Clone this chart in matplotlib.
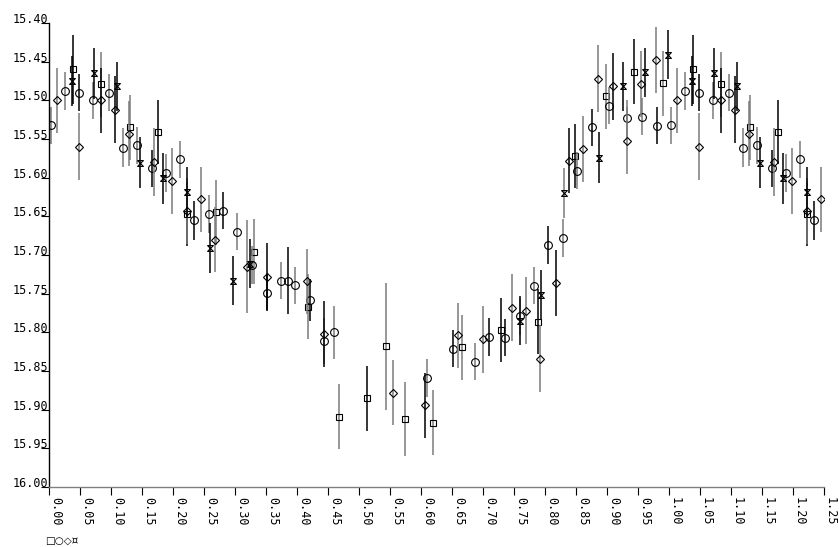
'''
Phase-folded light curve, four data sets with error bars.
'''

import numpy as np
import matplotlib
matplotlib.use("Agg")
import matplotlib.pyplot as plt
from matplotlib.path import Path

# squares
sq_phase = [0.038, 0.084, 0.130, 0.176, 0.223, 0.269, 0.331, 0.417, 0.467, 0.513,
            0.543, 0.574, 0.619, 0.666, 0.729, 0.788, 0.848, 0.898, 0.944, 0.991]
sq_mag = [15.460, 15.479, 15.535, 15.541, 15.647, 15.645, 15.696, 15.767, 15.909, 15.885,
          15.818, 15.912, 15.917, 15.819, 15.797, 15.786, 15.572, 15.495, 15.463, 15.478]
sq_err = [0.045, 0.042, 0.042, 0.041, 0.042, 0.042, 0.042, 0.042, 0.042, 0.042,
          0.082, 0.048, 0.042, 0.042, 0.042, 0.042, 0.042, 0.042, 0.042, 0.042]

# circles
ci_phase = [0.003, 0.026, 0.049, 0.071, 0.096, 0.119, 0.142, 0.166, 0.189, 0.212,
            0.234, 0.258, 0.281, 0.304, 0.327, 0.351, 0.374, 0.386, 0.397, 0.421,
            0.444, 0.460, 0.609, 0.651, 0.687, 0.710, 0.736, 0.759, 0.782, 0.805,
            0.829, 0.852, 0.875, 0.904, 0.933, 0.956, 0.980]
ci_mag = [15.532, 15.488, 15.490, 15.500, 15.490, 15.561, 15.558, 15.588, 15.594, 15.576,
          15.655, 15.647, 15.643, 15.670, 15.713, 15.749, 15.733, 15.733, 15.739, 15.758,
          15.811, 15.800, 15.859, 15.821, 15.838, 15.806, 15.807, 15.779, 15.740, 15.687,
          15.678, 15.591, 15.535, 15.507, 15.523, 15.521, 15.533]
ci_err = [0.024, 0.024, 0.024, 0.024, 0.024, 0.025, 0.024, 0.024, 0.024, 0.024,
          0.025, 0.024, 0.024, 0.024, 0.024, 0.024, 0.024, 0.043, 0.024, 0.027,
          0.030, 0.034, 0.024, 0.024, 0.024, 0.024, 0.024, 0.024, 0.024, 0.024,
          0.024, 0.024, 0.024, 0.024, 0.024, 0.024, 0.024]

# diamonds
di_phase = [0.013, 0.048, 0.084, 0.106, 0.129, 0.170, 0.198, 0.222, 0.245, 0.268,
            0.320, 0.351, 0.416, 0.444, 0.555, 0.606, 0.659, 0.700, 0.746, 0.769,
            0.792, 0.817, 0.839, 0.862, 0.885, 0.909, 0.932, 0.955, 0.979]
di_mag = [15.500, 15.560, 15.500, 15.512, 15.543, 15.580, 15.604, 15.643, 15.628, 15.680,
          15.715, 15.728, 15.734, 15.802, 15.878, 15.894, 15.804, 15.809, 15.768, 15.772,
          15.834, 15.736, 15.578, 15.563, 15.472, 15.482, 15.552, 15.479, 15.448]
di_err = [0.042, 0.043, 0.042, 0.043, 0.042, 0.044, 0.043, 0.043, 0.042, 0.042,
          0.060, 0.043, 0.042, 0.043, 0.042, 0.042, 0.042, 0.043, 0.043, 0.043,
          0.043, 0.043, 0.042, 0.043, 0.043, 0.043, 0.043, 0.043, 0.043]

# hourglass marks
hg_phase = [0.037, 0.073, 0.110, 0.147, 0.184, 0.222, 0.259, 0.296, 0.324, 0.759,
            0.794, 0.831, 0.887, 0.925, 0.962, 0.998]
hg_mag = [15.475, 15.465, 15.482, 15.581, 15.601, 15.619, 15.691, 15.733, 15.711, 15.785,
          15.752, 15.620, 15.574, 15.482, 15.464, 15.441]
hg_err = [0.032, 0.033, 0.032, 0.033, 0.033, 0.033, 0.032, 0.032, 0.032, 0.032,
          0.032, 0.032, 0.033, 0.032, 0.032, 0.032]

# which error bars are drawn dark (the rest are grey)
sq_dark = [1, 0, 0, 1, 1, 0, 0, 0, 0, 1, 0, 0, 0, 0, 1, 1, 1, 0, 1, 0]
ci_dark = [0, 0, 1, 0, 0, 0, 0, 1, 0, 0, 1, 0, 1, 0, 0, 1, 0, 1, 0, 1,
           0, 0, 0, 1, 0, 1, 1, 0, 0, 1, 0, 0, 1, 0, 0, 0, 1]
di_dark = [0, 0, 1, 1, 0, 0, 0, 0, 0, 0, 0, 1, 0, 1, 0, 1, 0, 0, 0, 0,
           0, 1, 1, 0, 0, 1, 0, 0, 0]
hg_dark = [1, 1, 1, 1, 1, 1, 1, 1, 1, 1, 1, 0, 1, 1, 1, 1]

x_ticks = np.arange(0, 1.2501, 0.05)
y_ticks = np.arange(15.40, 16.0001, 0.05)

# square with a cross: top and bottom bars joined by diagonals
hourglass = Path([(-1, 1), (1, 1), (-1, -1), (1, -1), (-1, 1)],
                 [Path.MOVETO, Path.LINETO, Path.LINETO, Path.LINETO, Path.LINETO])

fig = plt.figure(figsize=(8.39, 5.47), dpi=100)
ax = fig.add_axes([49 / 839, 60 / 547, 775 / 839, 464 / 547])

def draw(phase, mag, err, dark, marker, ms):
    phase = np.array(phase)
    mag = np.array(mag)
    err = np.array(err)
    dark = np.array(dark, dtype=bool)
    # repeat the first quarter of the cycle after phase 1
    wrap = phase < 0.25
    ph = np.concatenate([phase, phase[wrap] + 1])
    mg = np.concatenate([mag, mag[wrap]])
    er = np.concatenate([err, err[wrap]])
    dk = np.concatenate([dark, dark[wrap]])
    for m, col in [(~dk, "#7a7a7a"), (dk, "black")]:
        ax.errorbar(ph[m], mg[m], yerr=er[m], fmt="none", ecolor=col,
                    elinewidth=1.1, capsize=0)
    ax.plot(ph, mg, ls="none", marker=marker, ms=ms, mfc="none",
            mec="black", mew=0.8)

draw(sq_phase, sq_mag, sq_err, sq_dark, "s", 4.2)
draw(ci_phase, ci_mag, ci_err, ci_dark, "o", 5.6)
draw(di_phase, di_mag, di_err, di_dark, "D", 4.3)
draw(hg_phase, hg_mag, hg_err, hg_dark, hourglass, 4.2)

ax.set_xlim(0, 1.25)
ax.set_ylim(16.00, 15.40)

for s in ["top", "right"]:
    ax.spines[s].set_visible(False)
ax.spines["left"].set_color("black")
ax.spines["bottom"].set_color("#808080")
ax.spines["left"].set_linewidth(1.0)
ax.spines["bottom"].set_linewidth(1.0)

font = "DejaVu Sans Mono"
ax.set_xticks(x_ticks)
ax.set_xticklabels(["%.2f" % v for v in x_ticks], rotation=-90, ha="left",
                   va="top", family=font, fontsize=8.5)
ax.set_yticks(y_ticks)
ax.set_yticklabels(["%.2f" % v for v in y_ticks], ha="right", va="baseline",
                   family=font, fontsize=8.5)
ax.tick_params(axis="x", direction="out", length=6, pad=1, width=0.8)
ax.tick_params(axis="y", direction="out", length=6, pad=-5.5, width=0.8)

fig.text(45 / 839, 1 - 541 / 547, "\u25a1\u25cb\u25c7\u00a4", fontsize=7.5,
         va="center", ha="left", family="DejaVu Sans")

fig.savefig("out.png", dpi=100)
